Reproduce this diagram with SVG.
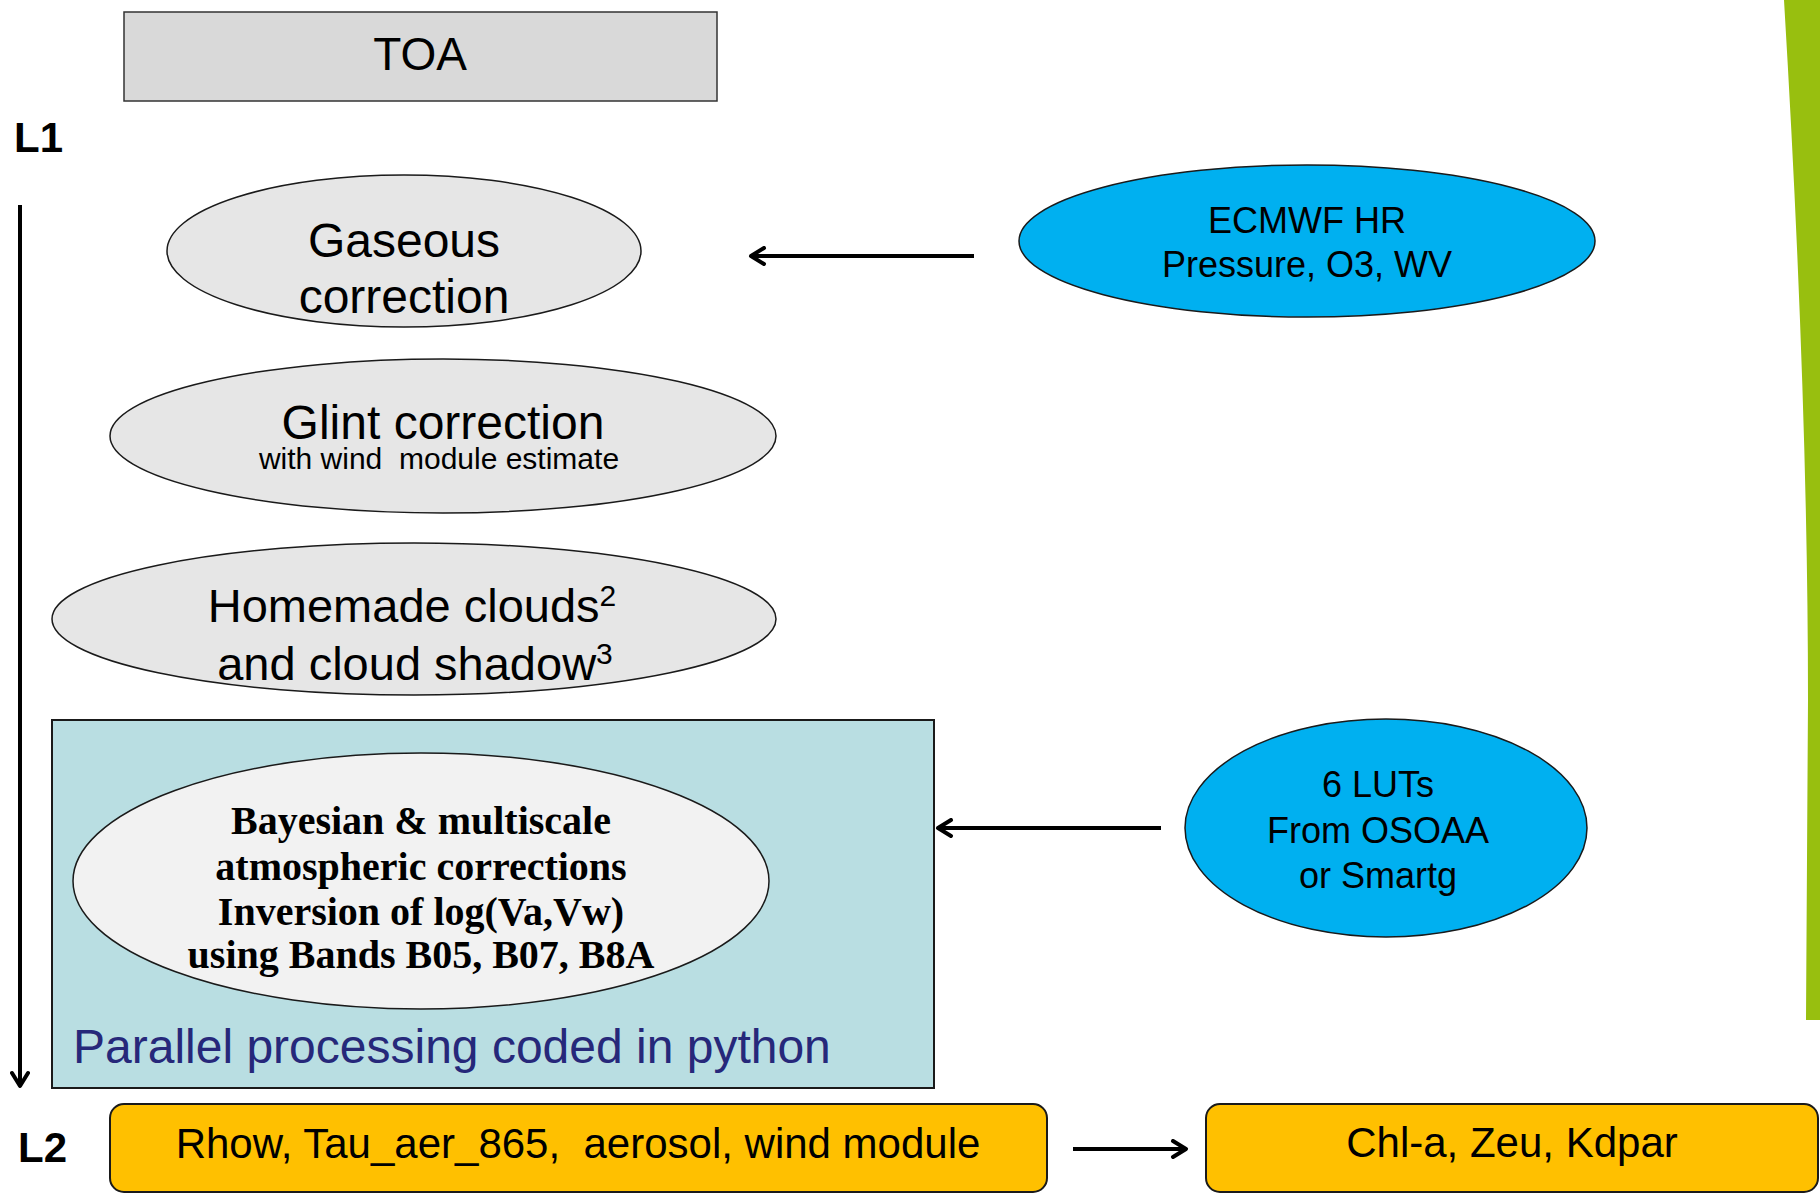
<svg xmlns="http://www.w3.org/2000/svg" width="1820" height="1194" viewBox="0 0 1820 1194">
<defs>
<marker id="ah" viewBox="0 0 20 20" refX="17" refY="10" markerWidth="20" markerHeight="20" markerUnits="userSpaceOnUse" orient="auto">
<path d="M4,2 L17,10 L4,18" fill="none" stroke="#000" stroke-width="4" stroke-linecap="round" stroke-linejoin="round"/>
</marker>
<style>
text{white-space:pre}
.t{font-family:"Liberation Sans",Arial,sans-serif;fill:#000;text-anchor:middle}
.b{font-family:"Liberation Sans",Arial,sans-serif;font-weight:bold;fill:#000}
.s{font-family:"Liberation Serif","Times New Roman",serif;font-weight:bold;fill:#000;text-anchor:middle;font-size:40px}
.g{fill:#E6E6E6;stroke:#1a1a1a;stroke-width:1.5}
.blue{fill:#00B0F0;stroke:#1a1a1a;stroke-width:1.5}
.org{fill:#FFC000;stroke:#1a1a1a;stroke-width:2}
.c{stroke:#000;stroke-width:4;fill:none;marker-end:url(#ah)}
</style>
</defs>
<rect width="1820" height="1194" fill="#fff"/>
<path id="green" d="M1784,0 Q1808,400 1808,700 L1806,1020 L1820,1020 L1820,0 Z" fill="#98BF0F"/>

<g id="toa">
<rect x="124" y="12" width="593" height="89" fill="#D9D9D9" stroke="#333" stroke-width="1.5"/>
<text class="t" x="420" y="70" font-size="46">TOA</text>
</g>
<g id="l1"><text class="b" x="14" y="152" font-size="42">L1</text></g>
<g id="l2"><text class="b" x="18" y="1162" font-size="42">L2</text></g>

<g id="gaseous">
<ellipse class="g" cx="404" cy="251" rx="237" ry="76"/>
<text class="t" x="404" y="257" font-size="48">Gaseous</text>
<text class="t" x="404" y="313" font-size="48">correction</text>
</g>

<g id="glint">
<ellipse class="g" cx="443" cy="436" rx="333" ry="77"/>
<text class="t" x="443" y="439" font-size="48">Glint correction</text>
<text class="t" x="439" y="469" font-size="30" xml:space="preserve">with wind  module estimate</text>
</g>

<g id="clouds">
<ellipse class="g" cx="414" cy="619" rx="362" ry="76"/>
<text class="t" x="412" y="622" font-size="47">Homemade clouds<tspan font-size="30" dy="-16">2</tspan></text>
<text class="t" x="415" y="680" font-size="47">and cloud shadow<tspan font-size="30" dy="-16">3</tspan></text>
</g>

<g id="parallel">
<rect x="52" y="720" width="882" height="368" fill="#B9DEE2" stroke="#1a1a1a" stroke-width="2"/>
<text x="73" y="1063" font-size="48" font-family="'Liberation Sans',Arial,sans-serif" fill="#26287A">Parallel processing coded in python</text>
</g>

<g id="bayesian">
<ellipse cx="421" cy="881" rx="348" ry="128" fill="#F2F2F2" stroke="#1a1a1a" stroke-width="1.5"/>
<text class="s" x="421" y="834">Bayesian &amp; multiscale</text>
<text class="s" x="421" y="880">atmospheric corrections</text>
<text class="s" x="421" y="925">Inversion of log(Va,Vw)</text>
<text class="s" x="421" y="968">using Bands B05, B07, B8A</text>
</g>

<g id="ecmwf">
<ellipse class="blue" cx="1307" cy="241" rx="288" ry="76"/>
<text class="t" x="1307" y="233" font-size="36">ECMWF HR</text>
<text class="t" x="1307" y="277" font-size="36">Pressure, O3, WV</text>
</g>

<g id="luts">
<ellipse class="blue" cx="1386" cy="828" rx="201" ry="109"/>
<text class="t" x="1378" y="797" font-size="36">6 LUTs</text>
<text class="t" x="1378" y="843" font-size="36">From OSOAA</text>
<text class="t" x="1378" y="888" font-size="36">or Smartg</text>
</g>

<g id="rhow">
<rect class="org" x="110" y="1104" width="937" height="88" rx="14"/>
<text class="t" x="578" y="1158" font-size="42" xml:space="preserve">Rhow, Tau_aer_865,  aerosol, wind module</text>
</g>

<g id="chl">
<rect class="org" x="1206" y="1104" width="612" height="88" rx="14"/>
<text class="t" x="1512" y="1157" font-size="42">Chl-a, Zeu, Kdpar</text>
</g>

<g id="connectors">
<line class="c" x1="20" y1="205" x2="20" y2="1086"/>
<line class="c" x1="974" y1="256" x2="751" y2="256"/>
<line class="c" x1="1161" y1="828" x2="938" y2="828"/>
<line class="c" x1="1073" y1="1149" x2="1186" y2="1149"/>
</g>
</svg>
